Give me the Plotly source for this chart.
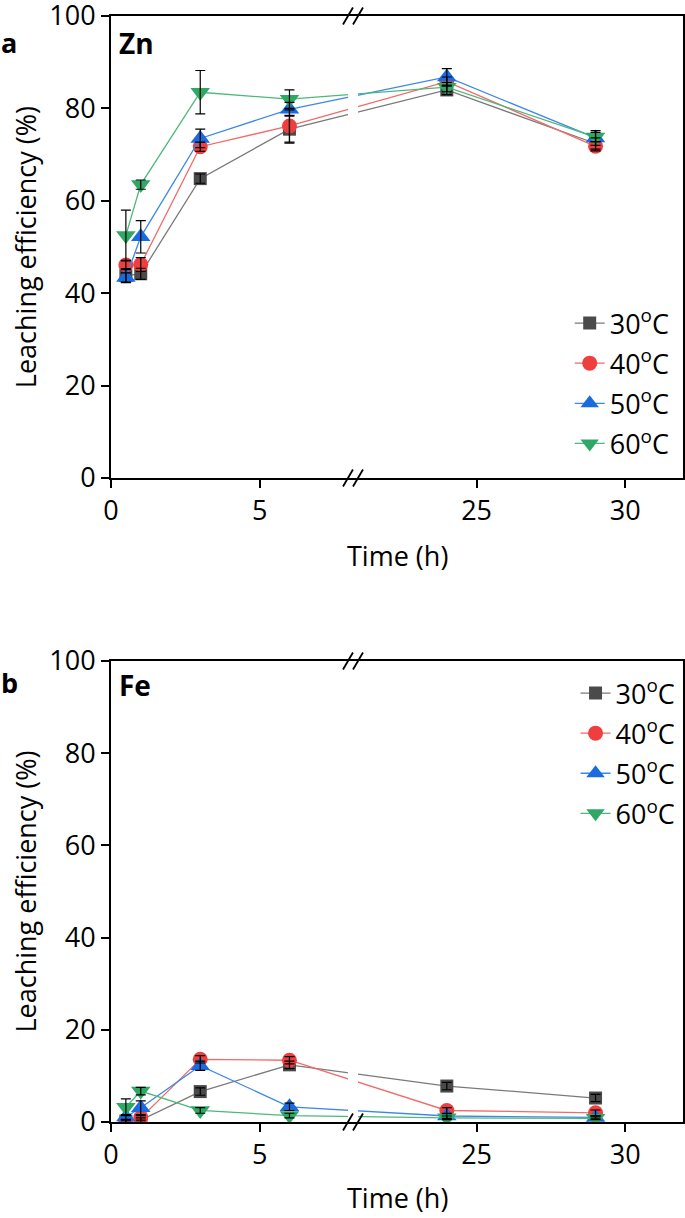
import plotly.graph_objects as go

# ---------------- data ----------------
time_h = [0.5, 1, 3, 6, 24, 29]
series_names = ["30<sup>o</sup>C", "40<sup>o</sup>C", "50<sup>o</sup>C", "60<sup>o</sup>C"]

zn_30 = [43.8, 44.2, 64.8, 75.5, 84.0, 72.4]
zn_30_err = [1.5, 1.2, 1.0, 3.0, 1.0, 1.2]
zn_40 = [46.1, 46.2, 71.7, 76.2, 85.8, 71.8]
zn_40_err = [1.0, 1.5, 1.0, 3.5, 1.0, 1.0]
zn_50 = [43.4, 52.2, 73.5, 79.8, 86.8, 73.6]
zn_50_err = [1.0, 3.5, 2.0, 1.5, 1.8, 1.6]
zn_60 = [52.5, 63.5, 83.5, 82.0, 84.6, 73.8]
zn_60_err = [5.5, 1.0, 4.7, 2.0, 1.0, 1.0]

fe_30 = [0.2, 0.4, 6.6, 12.4, 7.8, 5.2]
fe_30_err = [0.3, 0.5, 0.8, 0.8, 0.8, 0.8]
fe_40 = [0.1, 0.9, 13.6, 13.4, 2.5, 2.0]
fe_40_err = [0.3, 0.5, 0.8, 0.8, 0.6, 0.6]
fe_50 = [1.1, 3.1, 12.2, 3.3, 1.3, 1.0]
fe_50_err = [0.5, 1.5, 1.0, 0.8, 0.5, 0.3]
fe_60 = [3.2, 6.7, 2.5, 1.4, 0.9, 0.8]
fe_60_err = [1.8, 0.8, 0.6, 0.5, 0.4, 0.3]

tick_times = [0, 5, 25, 30]
y_ticks = [0, 20, 40, 60, 80, 100]

# ---------------- styling ----------------
FONT = "Open Sans"
marker_colors = ["#4a4a4a", "#ef3e3e", "#1a6be0", "#2fa866"]
line_colors = ["#7a7a7a", "#f26a6a", "#3c87ea", "#4cb87a"]
symbols = ["square", "circle", "triangle-up", "triangle-down"]
sizes = [13, 15, 17, 17]

# broken axis: times beyond the break are shifted left by BREAK_SHIFT
BREAK_AT = 8.13
BREAK_SHIFT = 12.71


def to_axis(t):
    return t if t <= BREAK_AT else t - BREAK_SHIFT


x_disp = [to_axis(t) for t in time_h]
tickvals = [to_axis(t) for t in tick_times]
ticktext = [str(t) for t in tick_times]

fig = go.Figure()

panels = [
    ("x", "y", "legend", "a", [zn_30, zn_40, zn_50, zn_60], [zn_30_err, zn_40_err, zn_50_err, zn_60_err]),
    ("x2", "y2", "legend2", "b", [fe_30, fe_40, fe_50, fe_60], [fe_30_err, fe_40_err, fe_50_err, fe_60_err]),
]

for xa, ya, leg, tag, vals, errs in panels:
    for i in range(4):
        fig.add_trace(go.Scatter(
            x=x_disp, y=vals[i], xaxis=xa, yaxis=ya, legend=leg,
            legendgroup=f"{tag}{i}",
            name=series_names[i], mode="lines+markers",
            line=dict(color=line_colors[i], width=1.3),
            marker=dict(symbol=symbols[i], size=sizes[i], color=marker_colors[i],
                        line=dict(width=0)),
        ))
    # error bars on top of markers
    for i in range(4):
        fig.add_trace(go.Scatter(
            x=x_disp, y=vals[i], xaxis=xa, yaxis=ya, showlegend=False,
            mode="markers", marker=dict(size=1, color="rgba(0,0,0,0)"),
            error_y=dict(type="data", array=errs[i], color="black", thickness=1.2, width=5),
            hoverinfo="skip",
        ))

axis_common = dict(
    showline=True, linewidth=2, linecolor="black", mirror=True,
    ticks="outside", ticklen=8, tickwidth=1.5, tickcolor="black",
    tickfont=dict(family=FONT, size=27, color="black"),
    showgrid=False, zeroline=False, automargin=False, ticklabeloverflow="allow",
)

legend_common = dict(font=dict(family=FONT, size=27), bgcolor="rgba(0,0,0,0)",
                     tracegroupgap=2, traceorder="grouped")

fig.update_layout(
    width=685, height=1218,
    margin=dict(l=111, r=2, t=16, b=96, autoexpand=False),
    paper_bgcolor="white", plot_bgcolor="white",
    font=dict(family=FONT, color="black"),
    xaxis=dict(domain=[0, 1], anchor="y", range=[0, 19.23],
               tickvals=tickvals, ticktext=ticktext, **axis_common),
    yaxis=dict(domain=[0.5823, 1], anchor="x", range=[0, 100], tickvals=y_ticks, **axis_common),
    xaxis2=dict(domain=[0, 1], anchor="y2", range=[0, 19.23],
                tickvals=tickvals, ticktext=ticktext, **axis_common),
    yaxis2=dict(domain=[0, 0.4168], anchor="x2", range=[0, 100], tickvals=y_ticks, **axis_common),
    legend=dict(x=0.9855, xanchor="right", y=0.7441, yanchor="top", **legend_common),
    legend2=dict(x=0.9957, xanchor="right", y=0.4096, yanchor="top", **legend_common),
    showlegend=True,
)

# break markers
shapes = []
for xr, yr in [("x domain", "y domain"), ("x2 domain", "y2 domain")]:
    shapes.append(dict(type="rect", xref=xr, yref=yr, x0=0.4143, x1=0.4318, y0=0.006, y1=0.994,
                       fillcolor="white", line=dict(width=0), layer="above"))
    for cx in [0.4143, 0.4318]:
        for cy in [0, 1]:
            shapes.append(dict(type="line", xref=xr, yref=yr,
                               x0=cx - 0.0087, x1=cx + 0.0087, y0=cy - 0.0184, y1=cy + 0.0184,
                               line=dict(color="black", width=1.8), layer="above"))
fig.update_layout(shapes=shapes)

annotations = [
    dict(text="Time (h)", xref="paper", yref="paper", x=0.5, y=0.5118, showarrow=False,
         xanchor="center", yanchor="middle", font=dict(family=FONT, size=27)),
    dict(text="Time (h)", xref="paper", yref="paper", x=0.5, y=-0.0687, showarrow=False,
         xanchor="center", yanchor="middle", font=dict(family=FONT, size=27)),
    dict(text="Leaching efficiency (%)", xref="paper", yref="paper", x=-0.1503, y=0.791,
         textangle=-90, showarrow=False, xanchor="center", yanchor="middle",
         font=dict(family=FONT, size=27)),
    dict(text="Leaching efficiency (%)", xref="paper", yref="paper", x=-0.1503, y=0.2084,
         textangle=-90, showarrow=False, xanchor="center", yanchor="middle",
         font=dict(family=FONT, size=27)),
    dict(text="<b>a</b>", xref="paper", yref="paper", x=-0.178, y=0.9756, showarrow=False,
         xanchor="center", yanchor="middle", font=dict(family=FONT, size=27)),
    dict(text="<b>b</b>", xref="paper", yref="paper", x=-0.178, y=0.397, showarrow=False,
         xanchor="center", yanchor="middle", font=dict(family=FONT, size=27)),
    dict(text="<b>Zn</b>", xref="paper", yref="paper", x=0.010, y=0.9756, showarrow=False,
         xanchor="left", yanchor="middle", font=dict(family=FONT, size=28)),
    dict(text="<b>Fe</b>", xref="paper", yref="paper", x=0.010, y=0.395, showarrow=False,
         xanchor="left", yanchor="middle", font=dict(family=FONT, size=28)),
]
fig.update_layout(annotations=annotations)

# remove the default 8px page margin so the figure sits at the window corner
fig.write_html("out.html", config={"displayModeBar": False},
               post_script="document.body.style.margin='0';")
